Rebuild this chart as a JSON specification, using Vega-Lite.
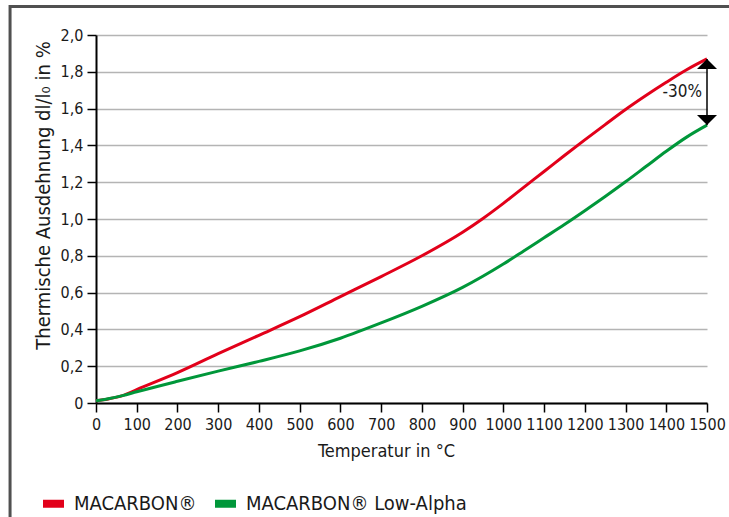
{
  "$schema": "https://vega.github.io/schema/vega-lite/v6.json",
  "width": 611,
  "height": 368,
  "autosize": {"type": "none"},
  "padding": {"left": 96, "top": 35, "right": 22, "bottom": 114},
  "background": "white",
  "config": {
    "font": "DejaVu Sans Condensed, Roboto, sans-serif",
    "view": {"stroke": null},
    "axis": {"labelFont": "DejaVu Sans Condensed, Roboto, sans-serif", "titleFont": "DejaVu Sans Condensed, Roboto, sans-serif", "labelColor": "#1a1a1a", "titleColor": "#1a1a1a", "titleFontWeight": "normal"}
  },
  "datasets": {
    "curves": [
      {"T": 0, "v": 0.012, "s": "MACARBON®"},
      {"T": 30, "v": 0.022, "s": "MACARBON®"},
      {"T": 65, "v": 0.04, "s": "MACARBON®"},
      {"T": 100, "v": 0.073, "s": "MACARBON®"},
      {"T": 200, "v": 0.165, "s": "MACARBON®"},
      {"T": 300, "v": 0.268, "s": "MACARBON®"},
      {"T": 400, "v": 0.368, "s": "MACARBON®"},
      {"T": 500, "v": 0.469, "s": "MACARBON®"},
      {"T": 600, "v": 0.578, "s": "MACARBON®"},
      {"T": 700, "v": 0.687, "s": "MACARBON®"},
      {"T": 800, "v": 0.8, "s": "MACARBON®"},
      {"T": 900, "v": 0.928, "s": "MACARBON®"},
      {"T": 950, "v": 1.003, "s": "MACARBON®"},
      {"T": 1000, "v": 1.085, "s": "MACARBON®"},
      {"T": 1050, "v": 1.172, "s": "MACARBON®"},
      {"T": 1100, "v": 1.258, "s": "MACARBON®"},
      {"T": 1150, "v": 1.345, "s": "MACARBON®"},
      {"T": 1200, "v": 1.43, "s": "MACARBON®"},
      {"T": 1250, "v": 1.513, "s": "MACARBON®"},
      {"T": 1300, "v": 1.595, "s": "MACARBON®"},
      {"T": 1350, "v": 1.671, "s": "MACARBON®"},
      {"T": 1400, "v": 1.743, "s": "MACARBON®"},
      {"T": 1450, "v": 1.811, "s": "MACARBON®"},
      {"T": 1500, "v": 1.87, "s": "MACARBON®"},
      {"T": 0, "v": 0.012, "s": "MACARBON® Low-Alpha"},
      {"T": 30, "v": 0.023, "s": "MACARBON® Low-Alpha"},
      {"T": 65, "v": 0.04, "s": "MACARBON® Low-Alpha"},
      {"T": 100, "v": 0.061, "s": "MACARBON® Low-Alpha"},
      {"T": 200, "v": 0.118, "s": "MACARBON® Low-Alpha"},
      {"T": 300, "v": 0.173, "s": "MACARBON® Low-Alpha"},
      {"T": 400, "v": 0.226, "s": "MACARBON® Low-Alpha"},
      {"T": 500, "v": 0.283, "s": "MACARBON® Low-Alpha"},
      {"T": 600, "v": 0.352, "s": "MACARBON® Low-Alpha"},
      {"T": 700, "v": 0.435, "s": "MACARBON® Low-Alpha"},
      {"T": 800, "v": 0.525, "s": "MACARBON® Low-Alpha"},
      {"T": 900, "v": 0.628, "s": "MACARBON® Low-Alpha"},
      {"T": 1000, "v": 0.755, "s": "MACARBON® Low-Alpha"},
      {"T": 1050, "v": 0.826, "s": "MACARBON® Low-Alpha"},
      {"T": 1100, "v": 0.898, "s": "MACARBON® Low-Alpha"},
      {"T": 1150, "v": 0.97, "s": "MACARBON® Low-Alpha"},
      {"T": 1200, "v": 1.045, "s": "MACARBON® Low-Alpha"},
      {"T": 1250, "v": 1.122, "s": "MACARBON® Low-Alpha"},
      {"T": 1300, "v": 1.202, "s": "MACARBON® Low-Alpha"},
      {"T": 1350, "v": 1.285, "s": "MACARBON® Low-Alpha"},
      {"T": 1400, "v": 1.368, "s": "MACARBON® Low-Alpha"},
      {"T": 1450, "v": 1.445, "s": "MACARBON® Low-Alpha"},
      {"T": 1500, "v": 1.51, "s": "MACARBON® Low-Alpha"}
    ],
    "note": [
      {"T": 1500, "top": 1.87, "bottom": 1.51, "headTop": 1.842, "headBottom": 1.538, "mid": 1.69, "label": "-30%"}
    ]
  },
  "layer": [
    {
      "data": {"name": "curves"},
      "mark": {"type": "line", "strokeWidth": 3, "interpolate": "monotone"},
      "encoding": {
        "x": {
          "field": "T", "type": "quantitative",
          "scale": {"domain": [0, 1500], "nice": false},
          "axis": {
            "title": "Temperatur in °C", "titleFontSize": 18, "titlePadding": 10, "titleX": 290, "titleAlign": "center",
            "values": [0, 100, 200, 300, 400, 500, 600, 700, 800, 900, 1000, 1100, 1200, 1300, 1400, 1500],
            "tickCount": 30, "format": "d",
            "labelFontSize": 16, "labelOverlap": false, "labelFlush": false, "labelPadding": 4,
            "grid": false, "domainColor": "#000000", "domainWidth": 2, "tickColor": "#000000", "tickWidth": 1.5, "tickSize": 9
          }
        },
        "y": {
          "field": "v", "type": "quantitative",
          "scale": {"domain": [0, 2], "nice": false},
          "axis": {
            "title": "Thermische Ausdehnung dl/l₀ in %", "titleFontSize": 20, "titlePadding": 7, "titleY": 160, "titleAlign": "center",
            "values": [0, 0.2, 0.4, 0.6, 0.8, 1.0, 1.2, 1.4, 1.6, 1.8, 2.0],
            "tickCount": 30,
            "labelExpr": "datum.value == 0 ? '0' : replace(format(datum.value, '.1f'), '.', ',')",
            "labelFontSize": 16, "labelPadding": 4, "labelFlush": false, "labelOverlap": false,
            "grid": true, "gridColor": "#b4b4b4", "gridWidth": 1.5,
            "domainColor": "#000000", "domainWidth": 2, "tickColor": "#000000", "tickWidth": 1.5, "tickSize": 9
          }
        },
        "color": {
          "field": "s", "type": "nominal",
          "scale": {"domain": ["MACARBON®", "MACARBON® Low-Alpha"], "range": ["#e2001a", "#00973a"]},
          "legend": {
            "title": null, "orient": "none", "direction": "horizontal",
            "legendX": -57, "legendY": 454,
            "symbolType": "stroke", "symbolSize": 441, "symbolStrokeWidth": 8,
            "labelFontSize": 20, "labelFont": "DejaVu Sans Condensed, Roboto, sans-serif", "labelColor": "#1a1a1a", "labelOffset": 6,
            "columnPadding": 2, "labelLimit": 400
          }
        }
      }
    },
    {
      "data": {"name": "note"},
      "mark": {"type": "rule", "stroke": "#000000", "strokeWidth": 1.5},
      "encoding": {
        "x": {"field": "T", "type": "quantitative"},
        "y": {"field": "top", "type": "quantitative"},
        "y2": {"field": "bottom"}
      }
    },
    {
      "data": {"name": "note"},
      "mark": {"type": "point", "shape": "M0,-0.5L1,0.5L-1,0.5Z", "filled": true, "fill": "#000000", "size": 400, "opacity": 1, "strokeWidth": 0},
      "encoding": {
        "x": {"field": "T", "type": "quantitative"},
        "y": {"field": "headTop", "type": "quantitative"}
      }
    },
    {
      "data": {"name": "note"},
      "mark": {"type": "point", "shape": "M-1,-0.5L1,-0.5L0,0.5Z", "filled": true, "fill": "#000000", "size": 400, "opacity": 1, "strokeWidth": 0},
      "encoding": {
        "x": {"field": "T", "type": "quantitative"},
        "y": {"field": "headBottom", "type": "quantitative"}
      }
    },
    {
      "data": {"name": "note"},
      "mark": {"type": "text", "align": "right", "baseline": "middle", "dx": -5, "fontSize": 17, "font": "DejaVu Sans Condensed, Roboto, sans-serif", "color": "#1a1a1a"},
      "encoding": {
        "x": {"field": "T", "type": "quantitative"},
        "y": {"field": "mid", "type": "quantitative"},
        "text": {"field": "label"}
      }
    },
    {
      "data": {"values": [{}]},
      "mark": {"type": "rect", "fill": null, "stroke": "#505050", "strokeWidth": 3, "clip": false},
      "encoding": {
        "x": {"datum": -211, "type": "quantitative"},
        "x2": {"datum": 1650},
        "y": {"datum": 2.155, "type": "quantitative"},
        "y2": {"datum": -0.75}
      }
    }
  ]
}
